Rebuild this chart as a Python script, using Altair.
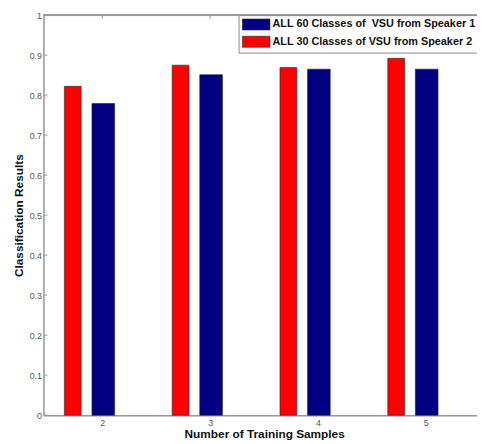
import altair as alt
import pandas as pd

samples = [2, 3, 4, 5]
speaker1_60 = [0.779, 0.851, 0.865, 0.865]
speaker2_30 = [0.822, 0.875, 0.869, 0.892]
label1 = "ALL 60 Classes of \u00a0VSU from Speaker 1"
label2 = "ALL 30 Classes of VSU from Speaker 2"
y_ticks = [0, 0.1, 0.2, 0.3, 0.4, 0.5, 0.6, 0.7, 0.8, 0.9, 1.0]

rows = []
for n, a, b in zip(samples, speaker1_60, speaker2_30):
    rows.append({"n": n, "value": a, "series": label1})
    rows.append({"n": n, "value": b, "series": label2})
df = pd.DataFrame(rows)

W, H = 440, 406
FONT = "Liberation Sans"
AXIS_GRAY = "#9a9a9a"

xscale = alt.Scale(domain=[1.5, 5.43], nice=False, zero=False)
yscale = alt.Scale(domain=[0, 1], nice=False)
color = alt.Color(
    "series:N",
    scale=alt.Scale(domain=[label1, label2], range=["#000080", "#ff0000"]),
    legend=alt.Legend(
        title=None,
        orient="none",
        legendX=198,
        legendY=0,
        symbolType="M-1,-1H4V1H-1Z",
        symbolSize=125,
        symbolStrokeColor="#222222",
        symbolStrokeWidth=0.6,
        symbolOpacity=1,
        labelFont=FONT,
        labelFontSize=11,
        labelFontWeight="bold",
        labelColor="#111111",
        labelOffset=19,
        labelLimit=400,
        rowPadding=3.5,
        padding=3.5,
        strokeColor="#8a8a8a",
        fillColor="white",
    ),
)

base = alt.Chart(df)

blue = base.transform_filter(alt.datum.series == label1).mark_bar(
    size=23, xOffset=1, stroke="#222222", strokeWidth=0.6
).encode(
    x=alt.X(
        "n:Q",
        scale=xscale,
        axis=alt.Axis(
            values=samples,
            format="d",
            title="Number of Training Samples",
            titleFont=FONT,
            titleFontSize=12,
            titleFontWeight="bold",
            titleColor="#111111",
            titlePadding=2,
            titleX=224,
            labelFont=FONT,
            labelFontSize=9,
            labelColor="#555555",
            labelPadding=3,
            ticks=False,
            grid=False,
            domainColor=AXIS_GRAY,
            domainWidth=1.5,
        ),
    ),
    y=alt.Y(
        "value:Q",
        scale=yscale,
        axis=alt.Axis(
            values=y_ticks,
            format="~g",
            title="Classification Results",
            titleFont=FONT,
            titleFontSize=12,
            titleFontWeight="bold",
            titleColor="#111111",
            titlePadding=4,
            labelFont=FONT,
            labelFontSize=9,
            labelColor="#555555",
            labelPadding=2,
            ticks=False,
            grid=False,
            domainColor=AXIS_GRAY,
            domainWidth=1.5,
        ),
    ),
    color=color,
)

red = base.transform_filter(alt.datum.series == label2).mark_bar(
    size=17, xOffset=-30, stroke="#222222", strokeWidth=0.6
).encode(
    x=alt.X("n:Q", scale=xscale),
    y=alt.Y("value:Q", scale=yscale),
    color=color,
)

ytick_df = pd.DataFrame({"v": y_ticks})
yticks = alt.Chart(ytick_df).mark_rule(color=AXIS_GRAY, strokeWidth=1).encode(
    y=alt.Y("v:Q", scale=yscale),
    x=alt.value(0),
    x2=alt.value(4),
)

xtick_df = pd.DataFrame({"n": samples})
xticks = alt.Chart(xtick_df).mark_rule(color=AXIS_GRAY, strokeWidth=1).encode(
    x=alt.X("n:Q", scale=xscale),
    y=alt.value(0),
    y2=alt.value(4),
)

top_line = alt.Chart(xtick_df).mark_rule(color=AXIS_GRAY, strokeWidth=1.5).encode(
    x=alt.value(0),
    x2=alt.value(W),
    y=alt.value(0),
)

chart = alt.layer(top_line, xticks, yticks, red, blue).properties(
    width=W,
    height=H,
    autosize=alt.AutoSizeParams(type="none"),
    padding={"left": 36, "top": 4, "right": 0, "bottom": 26},
).configure_view(stroke=None).configure(background="white")

chart.save("out.html", embed_options={"renderer": "svg", "actions": False})
